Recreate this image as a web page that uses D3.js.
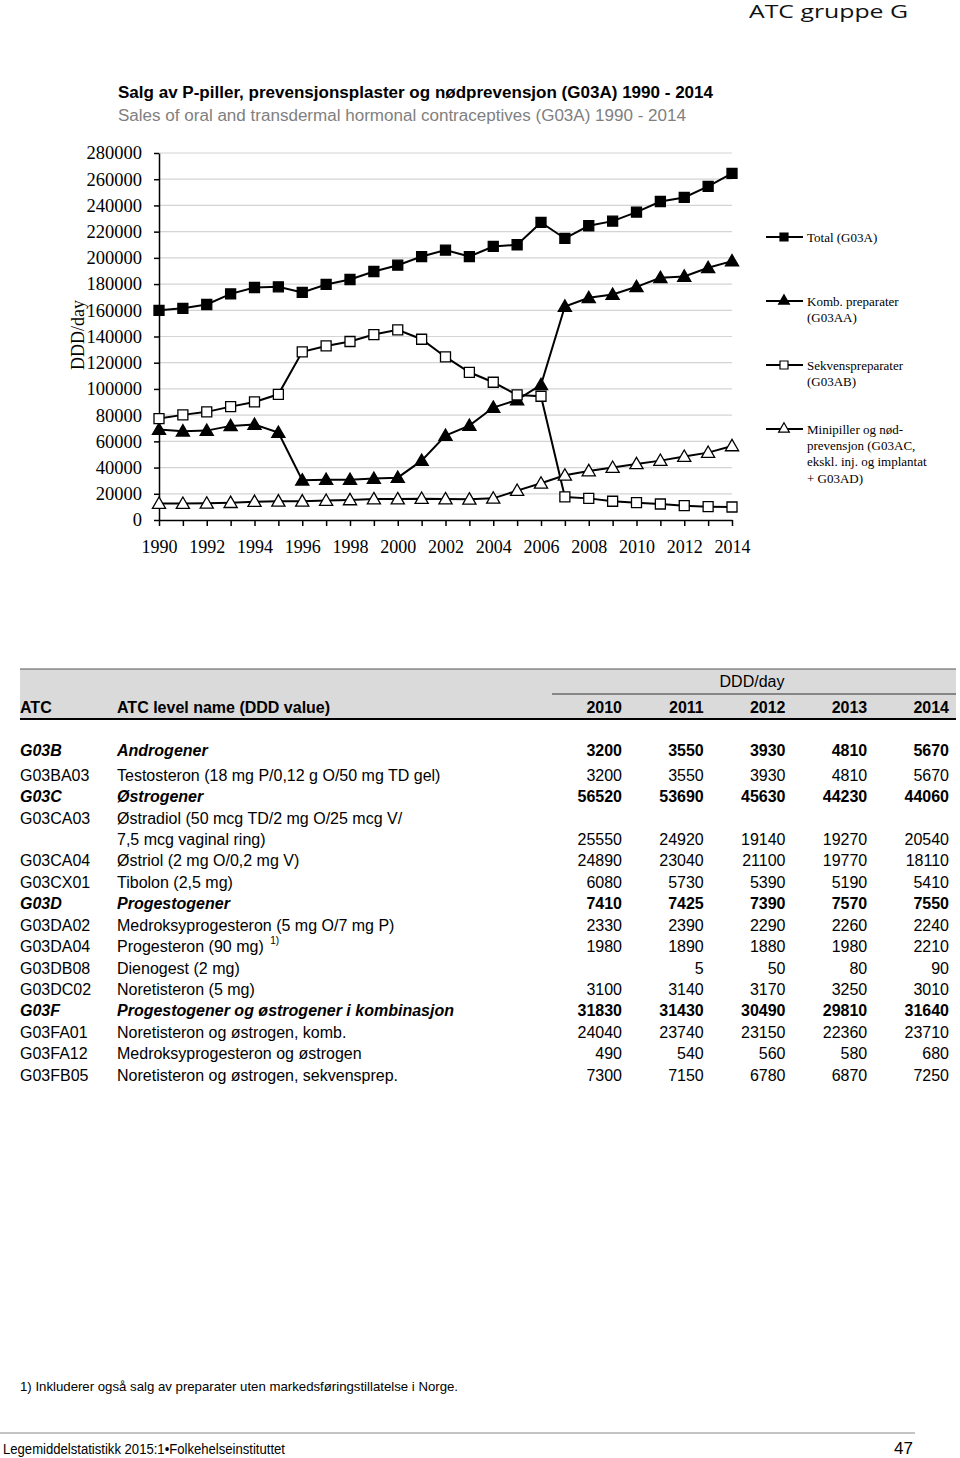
<!DOCTYPE html>
<html><head><meta charset="utf-8">
<script src="https://cdn.jsdelivr.net/npm/d3@7"></script>
<style>body{margin:0;background:#fff}svg{display:block}</style>
</head><body>
<script>
// ---------- DATA ----------
const years = [1990,1991,1992,1993,1994,1995,1996,1997,1998,1999,2000,2001,2002,2003,2004,2005,2006,2007,2008,2009,2010,2011,2012,2013,2014];
const yearLabels = [1990,1992,1994,1996,1998,2000,2002,2004,2006,2008,2010,2012,2014];
const yTicks = [0,20000,40000,60000,80000,100000,120000,140000,160000,180000,200000,220000,240000,260000,280000];
const totalG03A = [160000,161500,164400,172500,177400,177900,173600,179700,183500,189600,194400,201000,205900,201000,208700,210000,227000,214800,224500,228000,234900,243000,246100,254500,264400];
const kombG03AA = [69000,67700,68200,71800,72800,66700,30300,30800,30800,31600,32300,45300,64400,72000,85800,91600,103100,162900,169500,172000,177900,184800,185800,192400,197500];
const sekvG03AB = [77400,80200,82500,86500,90100,95900,128300,132800,136200,141500,145100,137900,124400,112700,105100,95400,94400,17600,16500,14300,13200,12200,10900,10200,9900];
const miniG03AC = [12500,12500,12700,13200,14000,14300,14300,14800,15300,16000,16000,16300,16000,15800,16500,22400,28000,34100,37400,40000,42800,45300,48400,51400,56500];
const seriesNames = [["Total (G03A)"],["Komb. preparater","(G03AA)"],["Sekvenspreparater","(G03AB)"],["Minipiller og nød-","prevensjon (G03AC,","ekskl. inj. og implantat","+ G03AD)"]];

const tableYears = ["2010","2011","2012","2013","2014"];
const tableCodes = ["G03B","G03BA03","G03C","G03CA03","G03CA04","G03CX01","G03D","G03DA02","G03DA04","G03DB08","G03DC02","G03F","G03FA01","G03FA12","G03FB05"];
const tableNames = ["Androgener","Testosteron (18 mg P/0,12 g O/50 mg TD gel)","Østrogener","Østradiol (50 mcg TD/2 mg O/25 mcg V/|7,5 mcg vaginal ring)","Østriol (2 mg O/0,2 mg V)","Tibolon (2,5 mg)","Progestogener","Medroksyprogesteron (5 mg O/7 mg P)","Progesteron (90 mg) ^1)","Dienogest (2 mg)","Noretisteron (5 mg)","Progestogener og østrogener i kombinasjon","Noretisteron og østrogen, komb.","Medroksyprogesteron og østrogen","Noretisteron og østrogen, sekvensprep."];
const tableValues = [
  [3200,3550,3930,4810,5670],
  [3200,3550,3930,4810,5670],
  [56520,53690,45630,44230,44060],
  [25550,24920,19140,19270,20540],
  [24890,23040,21100,19770,18110],
  [6080,5730,5390,5190,5410],
  [7410,7425,7390,7570,7550],
  [2330,2390,2290,2260,2240],
  [1980,1890,1880,1980,2210],
  [null,5,50,80,90],
  [3100,3140,3170,3250,3010],
  [31830,31430,30490,29810,31640],
  [24040,23740,23150,22360,23710],
  [490,540,560,580,680],
  [7300,7150,6780,6870,7250]
];

// ---------- DRAW ----------
const W = 960, H = 1458;
const svg = d3.select("body").append("svg").attr("width", W).attr("height", H);
const sans = "'Liberation Sans', Arial, sans-serif";
const serif = "'Liberation Serif', 'Times New Roman', serif";

// page header
svg.append("text").attr("x", 749).attr("y", 18).attr("font-family", "'Open Sans', 'DejaVu Sans', sans-serif")
  .attr("font-size", 18).attr("textLength", 159).attr("lengthAdjust", "spacingAndGlyphs").attr("fill", "#111").text("ATC gruppe G");

// titles
svg.append("text").attr("x", 118).attr("y", 98).attr("font-family", sans).attr("font-weight", "bold")
  .attr("font-size", 16).attr("textLength", 595).attr("lengthAdjust", "spacingAndGlyphs")
  .text("Salg av P-piller, prevensjonsplaster og nødprevensjon (G03A) 1990 - 2014");
svg.append("text").attr("x", 118).attr("y", 121).attr("font-family", sans).attr("fill", "#808080")
  .attr("font-size", 16).attr("textLength", 568).attr("lengthAdjust", "spacingAndGlyphs")
  .text("Sales of oral and transdermal hormonal contraceptives (G03A) 1990 - 2014");

// chart
const x = d3.scaleLinear().domain([1990, 2014]).range([159, 732]);
const y = d3.scaleLinear().domain([0, 280000]).range([520, 153]);

const g = svg.append("g");
g.selectAll("line.grid").data(yTicks.filter(d => d > 0)).join("line")
  .attr("x1", x(1990)).attr("x2", x(2014)).attr("y1", d => y(d)).attr("y2", d => y(d))
  .attr("stroke", "#d4d4d4").attr("stroke-width", 1.2);

const yAxis = g.append("g").attr("transform", `translate(${x(1990)},0)`)
  .call(d3.axisLeft(y).tickValues(yTicks).tickSize(5).tickSizeOuter(0).tickPadding(12).tickFormat(d3.format("d")));
yAxis.selectAll("text").attr("font-family", serif).attr("font-size", 18.5).attr("fill", "#000");
yAxis.selectAll("line, path").attr("stroke", "#000").attr("stroke-width", 1.5);

const xAxis = g.append("g").attr("transform", `translate(0,${y(0)})`)
  .call(d3.axisBottom(x).tickValues(years).tickSize(6).tickSizeOuter(0).tickPadding(14)
    .tickFormat(d => yearLabels.includes(d) ? String(d) : ""));
xAxis.selectAll("text").attr("font-family", serif).attr("font-size", 18).attr("fill", "#000");
xAxis.selectAll("line, path").attr("stroke", "#000").attr("stroke-width", 1.5);

svg.append("text").attr("transform", `translate(84,335) rotate(-90)`).attr("text-anchor", "middle")
  .attr("font-family", serif).attr("font-size", 18).text("DDD/day");

const series = [
  {vals: totalG03A, shape: "square", fill: "#000"},
  {vals: kombG03AA, shape: "triangle", fill: "#000"},
  {vals: sekvG03AB, shape: "square", fill: "#fff"},
  {vals: miniG03AC, shape: "triangle", fill: "#fff"}
];
const line = d3.line().x((d, i) => x(years[i])).y(d => y(d));
const sym = (shape, size) => d3.symbol().type(shape === "square" ? d3.symbolSquare : d3.symbolTriangle).size(size)();

series.forEach(s => {
  g.append("path").attr("d", line(s.vals)).attr("fill", "none").attr("stroke", "#000").attr("stroke-width", 2);
});
series.forEach(s => {
  g.selectAll(null).data(s.vals).join("path")
    .attr("transform", (d, i) => `translate(${x(years[i])},${y(d) + (s.shape === "triangle" ? 1 : 0)})`)
    .attr("d", sym(s.shape, s.shape === "square" ? 100 : 75))
    .attr("fill", s.fill).attr("stroke", "#000").attr("stroke-width", 1.3);
});

// legend
const legY = [237, 301, 365, 429];
series.forEach((s, i) => {
  const lg = svg.append("g").attr("transform", `translate(0,${legY[i]})`);
  lg.append("line").attr("x1", 766).attr("x2", 803).attr("stroke", "#000").attr("stroke-width", 2);
  lg.append("path").attr("transform", "translate(784,0)").attr("d", sym(s.shape, s.shape === "square" ? 64 : 50))
    .attr("fill", s.fill).attr("stroke", "#000").attr("stroke-width", 1.2);
  seriesNames[i].forEach((t, j) => {
    lg.append("text").attr("x", 807).attr("y", j * 16.2 + 5).attr("font-family", serif).attr("font-size", 13).text(t);
  });
});

// table header
svg.append("rect").attr("x", 20).attr("y", 669).attr("width", 936).attr("height", 50).attr("fill", "#dadada");
svg.append("line").attr("x1", 20).attr("x2", 956).attr("y1", 669).attr("y2", 669).attr("stroke", "#555").attr("stroke-width", 1);
svg.append("line").attr("x1", 552).attr("x2", 956).attr("y1", 694).attr("y2", 694).attr("stroke", "#333").attr("stroke-width", 1);
svg.append("line").attr("x1", 20).attr("x2", 956).attr("y1", 719).attr("y2", 719).attr("stroke", "#000").attr("stroke-width", 2);
svg.append("text").attr("x", 752).attr("y", 687).attr("text-anchor", "middle").attr("font-family", sans).attr("font-size", 16).text("DDD/day");
svg.append("text").attr("x", 20).attr("y", 713).attr("font-family", sans).attr("font-size", 16).attr("font-weight", "bold").text("ATC");
svg.append("text").attr("x", 117).attr("y", 713).attr("font-family", sans).attr("font-size", 16).attr("font-weight", "bold").text("ATC level name (DDD value)");
const colX = d3.scalePoint().domain(tableYears).range([622, 949]);
svg.selectAll("text.hy").data(tableYears).join("text")
  .attr("x", d => colX(d)).attr("y", 713).attr("text-anchor", "end")
  .attr("font-family", sans).attr("font-size", 16).attr("font-weight", "bold").text(d => d);

// table body
const lineY = li => (li === 0 ? 750 : 775 + (li - 1) * 21.43) + 5.7;
let li = 0;
tableCodes.forEach((code, r) => {
  const isGroup = code.length === 4;
  const lines = tableNames[r].split("|");
  const firstY = lineY(li);
  const tc = svg.append("text").attr("x", 20).attr("y", firstY).attr("font-family", sans).attr("font-size", 16).text(code);
  if (isGroup) tc.attr("font-weight", "bold").attr("font-style", "italic");
  lines.forEach((t, k) => {
    const ty = lineY(li + k);
    const tx = svg.append("text").attr("x", 117).attr("y", ty).attr("font-family", sans).attr("font-size", 16);
    if (isGroup) tx.attr("font-weight", "bold").attr("font-style", "italic");
    const parts = t.split("^");
    tx.append("tspan").text(parts[0]);
    if (parts[1]) tx.append("tspan").attr("font-size", 10).attr("dy", -8).attr("dx", 2).text(parts[1]);
  });
  li += lines.length;
  const vy = lineY(li - 1);
  tableValues[r].forEach((v, c) => {
    if (v === null) return;
    const tv = svg.append("text").attr("x", colX(tableYears[c])).attr("y", vy).attr("text-anchor", "end")
      .attr("font-family", sans).attr("font-size", 16).text(v);
    if (isGroup) tv.attr("font-weight", "bold");
  });
});

// footnote & footer
svg.append("text").attr("x", 20).attr("y", 1391).attr("font-family", sans).attr("font-size", 13)
  .attr("textLength", 438).attr("lengthAdjust", "spacingAndGlyphs")
  .text("1) Inkluderer også salg av preparater uten markedsføringstillatelse i Norge.");
svg.append("line").attr("x1", 0).attr("x2", 915).attr("y1", 1433).attr("y2", 1433).attr("stroke", "#888").attr("stroke-width", 1);
svg.append("text").attr("x", 3).attr("y", 1454).attr("font-family", sans).attr("font-size", 14)
  .attr("textLength", 282).attr("lengthAdjust", "spacingAndGlyphs")
  .text("Legemiddelstatistikk 2015:1•Folkehelseinstituttet");
svg.append("text").attr("x", 913).attr("y", 1454).attr("text-anchor", "end").attr("font-family", sans).attr("font-size", 17).text("47");
</script>
</body></html>
